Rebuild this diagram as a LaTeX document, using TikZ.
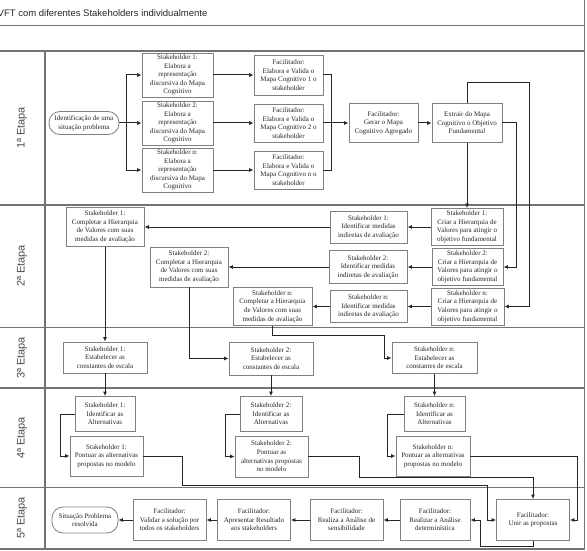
\documentclass[tikz,border=0pt]{standalone}
\usepackage{fontspec}
\setmainfont{Liberation Serif}
\newfontfamily\titlefont{Liberation Sans}
\usetikzlibrary{arrows.meta}
\begin{document}
\begin{tikzpicture}[x=1pt,y=-1pt,
  frame/.style={draw=black!55, line width=1.3pt},
  box/.style={draw=black!50, line width=0.8pt, fill=white, align=center, inner sep=0.5pt,
    font=\fontsize{7}{8.6}\selectfont, text=black!85},
  term/.style={box, rounded corners=11pt},
  arr/.style={draw=black!85, line width=1pt, -{Latex[length=4.5pt,width=4pt]}},
  ln/.style={draw=black!85, line width=1pt},
  stage/.style={rotate=90, font=\titlefont\fontsize{11}{13}\selectfont, text=black!70},
  titletext/.style={font=\titlefont\fontsize{9.5}{11}\selectfont, text=black!85, inner sep=0pt}
]
\useasboundingbox (0,0) rectangle (587,551);

% ---------- frame ----------
\node[titletext, anchor=base west] (title) at (-2.5,16.5) {VFT com diferentes Stakeholders individualmente};
\draw[frame] (0,25.5) -- (584.5,25.5);
\draw[frame] (0,51) -- (584.5,51);
\draw[frame] (584.5,0) -- (584.5,549);
\draw[frame] (45,51) -- (45,549);
\draw[frame] (0,205) -- (584.5,205);
\draw[frame] (0,327.5) -- (584.5,327.5);
\draw[frame] (0,388) -- (584.5,388);
\draw[frame] (0,487.5) -- (584.5,487.5);
\draw[frame] (0,549) -- (584.5,549);

\node[stage] (st1) at (22,128) {1ª Etapa};
\node[stage] (st2) at (22,266) {2ª Etapa};
\node[stage] (st3) at (22,358) {3ª Etapa};
\node[stage] (st4) at (22,438) {4ª Etapa};
\node[stage] (st5) at (22,518) {5ª Etapa};

% ---------- 1a etapa ----------
\node[term, minimum width=70pt, minimum height=23pt] (id) at (84,123) {Identificação de uma\\situação problema};
\node[box, minimum width=71pt, minimum height=44pt] (s1e) at (177.5,75) {Stakeholder 1:\\Elabora a\\representação\\discursiva do Mapa\\Cognitivo};
\node[box, minimum width=71pt, minimum height=44pt] (s2e) at (177.5,123) {Stakeholder 2:\\Elabora a\\representação\\discursiva do Mapa\\Cognitivo};
\node[box, minimum width=71pt, minimum height=44pt] (sne) at (177.5,170) {Stakeholder n:\\Elabora a\\representação\\discursiva do Mapa\\Cognitivo};
\node[box, minimum width=69pt, minimum height=40pt] (f1) at (288.5,75) {Facilitador:\\Elabora e Valida o\\Mapa Cognitivo 1 o\\stakeholder};
\node[box, minimum width=69pt, minimum height=38pt] (f2) at (288.5,123) {Facilitador:\\Elabora e Valida o\\Mapa Cognitivo 2 o\\stakeholder};
\node[box, minimum width=69pt, minimum height=38pt] (fn) at (288.5,170) {Facilitador:\\Elabora e Valida o\\Mapa Cognitivo n o\\stakeholder};
\node[box, minimum width=69pt, minimum height=39pt] (gerar) at (383.5,123) {Facilitador:\\Gerar o Mapa\\Cognitivo Agregado};
\node[box, minimum width=70pt, minimum height=39pt] (extrair) at (467,123) {Extrair do Mapa\\Cognitivo o Objetivo\\Fundamental};

% ---------- 2a etapa ----------
\node[box, minimum width=72pt, minimum height=37pt] (cr1) at (467,227) {Stakeholder 1:\\Criar a Hierarquia de\\Valores para atingir o\\objetivo fundamental};
\node[box, minimum width=71pt, minimum height=37pt] (cr2) at (467.5,267) {Stakeholder 2:\\Criar a Hierarquia de\\Valores para atingir o\\objetivo fundamental};
\node[box, minimum width=73pt, minimum height=37pt] (crn) at (467.5,306.5) {Stakeholder n:\\Criar a Hierarquia de\\Valores para atingir o\\objetivo fundamental};
\node[box, minimum width=77pt, minimum height=32pt] (id1) at (368.5,227) {Stakeholder 1:\\Identificar medidas\\indiretas de avaliação};
\node[box, minimum width=78pt, minimum height=33pt] (id2) at (368,267) {Stakeholder 2:\\Identificar medidas\\indiretas de avaliação};
\node[box, minimum width=77pt, minimum height=32pt] (idn) at (368.5,306.5) {Stakeholder n:\\Identificar medidas\\indiretas de avaliação};
\node[box, minimum width=78pt, minimum height=39pt] (cp1) at (105,227) {Stakeholder 1:\\Completar a Hierarquia\\de Valores com suas\\medidas de avaliação};
\node[box, minimum width=78pt, minimum height=40pt] (cp2) at (189,267) {Stakeholder 2:\\Completar a Hierarquia\\de Valores com suas\\medidas de avaliação};
\node[box, minimum width=79pt, minimum height=38pt] (cpn) at (272.5,306.5) {Stakeholder n:\\Completar a Hierarquia\\de Valores com suas\\medidas de avaliação};

% ---------- 3a etapa ----------
\node[box, minimum width=84pt, minimum height=31pt] (es1) at (105,357.5) {Stakeholder 1:\\Estabelecer as\\constantes de escala};
\node[box, minimum width=84pt, minimum height=33pt] (es2) at (271,358.5) {Stakeholder 2:\\Estabelecer as\\constantes de escala};
\node[box, minimum width=85pt, minimum height=31pt] (esn) at (434.5,358) {Stakeholder n:\\Estabelecer as\\constantes de escala};

% ---------- 4a etapa ----------
\node[box, minimum width=60pt, minimum height=35pt] (ia1) at (105,414) {Stakeholder 1:\\Identificar as\\Alternativas};
\node[box, minimum width=62pt, minimum height=35pt] (ia2) at (271,414) {Stakeholder 2:\\Identificar as\\Alternativas};
\node[box, minimum width=61pt, minimum height=35pt] (ian) at (434.5,414) {Stakeholder n:\\Identificar as\\Alternativas};
\node[box, minimum width=73pt, minimum height=40pt] (pt1) at (106.5,456) {Stakeholder 1:\\Pontuar as alternativas\\propostas no modelo};
\node[box, minimum width=73pt, minimum height=41pt] (pt2) at (271.5,456.5) {Stakeholder 2:\\Pontuar as\\alternativas propostas\\no modelo};
\node[box, minimum width=74pt, minimum height=40pt] (ptn) at (433,456) {Stakeholder n:\\Pontuar as alternativas\\propostas no modelo};

% ---------- 5a etapa ----------
\node[box, minimum width=73pt, minimum height=41pt] (unir) at (533,520) {Facilitador:\\Unir as propostas};
\node[box, minimum width=70pt, minimum height=41pt] (det) at (435,520) {Facilitador:\\Realizar a Análise\\determinística};
\node[box, minimum width=73pt, minimum height=41pt] (sen) at (346.5,520) {Facilitador:\\Realiza a Análise de\\sensibilidade};
\node[box, minimum width=73pt, minimum height=41pt] (apr) at (254,520) {Facilitador:\\Apresentar Resultado\\aos stakeholders};
\node[box, minimum width=73pt, minimum height=41pt] (val) at (169.5,520) {Facilitador:\\Validar a solução por\\todos os stakeholders};
\node[term, minimum width=66pt, minimum height=26pt] (sit) at (85,520) {Situação Problema\\resolvida};

% ---------- connectors: 1a etapa ----------
\coordinate (b1t) at (126,75);
\coordinate (b1b) at (126,170);
\draw[ln] (b1t) -- (b1b);
\draw[arr] (b1t) -- (s1e.west);
\draw[arr] (id.east) -- (s2e.west);
\draw[arr] (b1b) -- (sne.west);
\draw[arr] (s1e.east) -- (f1.west);
\draw[arr] (s2e.east) -- (f2.west);
\draw[arr] (sne.east) -- (fn.west);
\draw[ln] (f1.east) -- ++(8.5,0) |- (fn.east);
\draw[arr] (f2.east) -- (gerar.west);
\draw[arr] (gerar.east) -- (extrair.west);
\coordinate (e1) at (529,83);
\draw[arr] (extrair.north) |- (e1) |- (crn.east);
\coordinate (e2) at (516,123);
\draw[arr] (extrair.east) -- (e2) |- (cr2.east);
\draw[arr] (extrair.south) -- (cr1.north);

% ---------- connectors: 2a etapa ----------
\draw[arr] (cr1.west) -- (id1.east);
\draw[arr] (cr2.west) -- (id2.east);
\draw[arr] (crn.west) -- (idn.east);
\draw[arr] (id1.west) -- (cp1.east);
\draw[arr] (id2.west) -- (cp2.east);
\draw[arr] (idn.west) -- (cpn.east);

% ---------- connectors: 3a etapa ----------
\draw[arr] (cp1.south) -- (es1.north);
\draw[arr] (cp2.south) |- (es2.west);
\coordinate (c3) at (384,335);
\draw[arr] (cpn.south) |- (c3) |- (esn.west);
\draw[arr] (es1.south) -- (ia1.north);
\draw[arr] (es2.south) -- (ia2.north);
\draw[arr] (esn.south) -- (ian.north);

% ---------- connectors: 4a etapa ----------
\draw[arr] (ia1.west) -- ++(-14,0) |- (pt1.west);
\draw[arr] (ia2.west) -- ++(-14.5,0) |- (pt2.west);
\draw[arr] (ian.west) -- ++(-16,0) |- (ptn.west);
\coordinate (p1a) at (182,485);
\coordinate (p1b) at (487,485);
\draw[arr] (pt1.east) -| (p1a) -- (p1b) |- (unir.west);
\coordinate (p2a) at (359,477);
\draw[arr] (pt2.east) -| (p2a) -| (unir.north);
\coordinate (pna) at (577,456);
\draw[arr] (ptn.east) -- (pna) |- (unir.east);

% ---------- connectors: 5a etapa ----------
\coordinate (u1) at (480,546);
\draw[arr] (unir.south) |- (u1) |- (det.east);
\draw[arr] (det.west) -- (sen.east);
\draw[arr] (sen.west) -- (apr.east);
\draw[arr] (apr.west) -- (val.east);
\draw[arr] (val.west) -- (sit.east);
\end{tikzpicture}
\end{document}
